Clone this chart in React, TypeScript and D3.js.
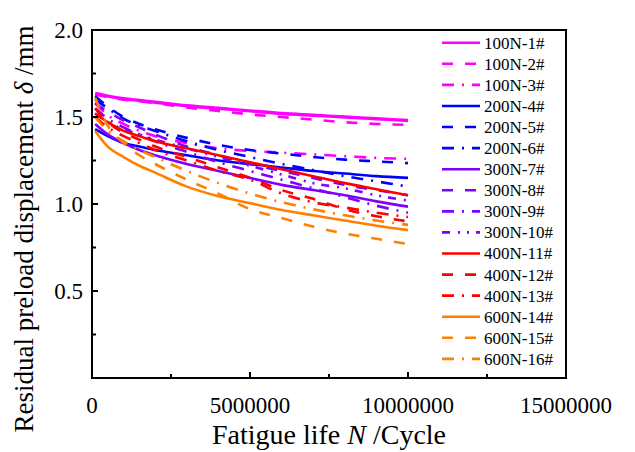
import React from "react";
import * as d3 from "d3";

const cycles = [0.1e6, 0.5e6, 1e6, 1.5e6, 2e6, 3e6, 4e6, 5e6, 6e6, 7e6, 8e6, 9e6, 10e6];

const seriesNames = [
  "100N-1#", "100N-2#", "100N-3#",
  "200N-4#", "200N-5#", "200N-6#",
  "300N-7#", "300N-8#", "300N-9#", "300N-10#",
  "400N-11#", "400N-12#", "400N-13#",
  "600N-14#", "600N-15#", "600N-16#",
];

const s100_1 = [1.635, 1.62, 1.605, 1.595, 1.585, 1.565, 1.55, 1.535, 1.52, 1.51, 1.5, 1.49, 1.48];
const s100_2 = [1.63, 1.615, 1.6, 1.59, 1.58, 1.555, 1.535, 1.515, 1.5, 1.485, 1.47, 1.46, 1.455];
const s100_3 = [1.58, 1.51, 1.46, 1.42, 1.39, 1.35, 1.32, 1.305, 1.295, 1.285, 1.275, 1.265, 1.26];
const s200_4 = [1.43, 1.39, 1.35, 1.33, 1.31, 1.28, 1.25, 1.23, 1.21, 1.19, 1.175, 1.16, 1.15];
const s200_5 = [1.62, 1.56, 1.5, 1.46, 1.43, 1.38, 1.34, 1.31, 1.29, 1.27, 1.255, 1.245, 1.235];
const s200_6 = [1.6, 1.55, 1.49, 1.45, 1.42, 1.36, 1.31, 1.27, 1.23, 1.195, 1.16, 1.13, 1.1];
const s300_7 = [1.46, 1.4, 1.35, 1.31, 1.28, 1.23, 1.19, 1.15, 1.11, 1.08, 1.05, 1.015, 0.985];
const s300_8 = [1.58, 1.53, 1.48, 1.44, 1.4, 1.33, 1.28, 1.23, 1.19, 1.15, 1.11, 1.08, 1.05];
const s300_9 = [1.55, 1.49, 1.44, 1.4, 1.36, 1.3, 1.24, 1.19, 1.14, 1.09, 1.04, 0.99, 0.95];
const s300_10 = [1.52, 1.47, 1.43, 1.4, 1.37, 1.32, 1.27, 1.22, 1.17, 1.12, 1.09, 1.05, 1.02];
const s400_11 = [1.52, 1.47, 1.42, 1.39, 1.36, 1.32, 1.28, 1.24, 1.2, 1.16, 1.12, 1.085, 1.05];
const s400_12 = [1.55, 1.47, 1.41, 1.37, 1.33, 1.27, 1.21, 1.15, 1.08, 1.03, 0.97, 0.93, 0.9];
const s400_13 = [1.5, 1.44, 1.39, 1.35, 1.31, 1.25, 1.19, 1.14, 1.06, 1.01, 0.98, 0.95, 0.925];
const s600_14 = [1.42, 1.33, 1.27, 1.22, 1.18, 1.1, 1.045, 1.005, 0.965, 0.935, 0.905, 0.875, 0.85];
const s600_15 = [1.61, 1.45, 1.35, 1.28, 1.23, 1.14, 1.06, 0.97, 0.92, 0.87, 0.83, 0.8, 0.77];
const s600_16 = [1.5, 1.42, 1.36, 1.31, 1.27, 1.19, 1.12, 1.06, 1.01, 0.97, 0.935, 0.905, 0.88];

const seriesValues = [
  s100_1, s100_2, s100_3, s200_4, s200_5, s200_6,
  s300_7, s300_8, s300_9, s300_10, s400_11, s400_12, s400_13,
  s600_14, s600_15, s600_16,
];

const xTicks = [0, 5000000, 10000000, 15000000];
const xMinorTicks = [2500000, 7500000, 12500000];
const yTicks = [0.5, 1.0, 1.5, 2.0];
const yMinorTicks = [0.25, 0.75, 1.25, 1.75];

const MAGENTA = "#ff00ff";
const BLUE = "#0000ff";
const PURPLE = "#8000ff";
const RED = "#ff0000";
const ORANGE = "#ff8000";
const colors = [
  MAGENTA, MAGENTA, MAGENTA, BLUE, BLUE, BLUE,
  PURPLE, PURPLE, PURPLE, PURPLE, RED, RED, RED,
  ORANGE, ORANGE, ORANGE,
];
const SOLID = "none";
const DASH = "11,12";
const DASHDOT = "12,8,2,8";
const DASHDOTDOT = "8,8,2,7,2,7";
const dashes = [
  SOLID, DASH, DASHDOT, SOLID, DASH, DASHDOT,
  SOLID, DASH, DASHDOT, DASHDOTDOT, SOLID, DASH, DASHDOT,
  SOLID, DASH, DASHDOT,
];

const W = 635;
const H = 452;
const L = 92, R = 566, T = 30, B = 378;
const FONT = "'Liberation Serif', 'Times New Roman', serif";

export default function App() {
  const x = d3.scaleLinear().domain([0, 15000000]).range([L, R]);
  const y = d3.scaleLinear().domain([0, 2.0]).range([B, T]);
  const line = d3
    .line<number>()
    .x((_, i) => x(cycles[i]))
    .y((d) => y(d))
    .curve(d3.curveMonotoneX);

  const legendX0 = 442, legendX1 = 480, legendTextX = 484, legendY0 = 42.7, legendDy = 21.08;

  return (
    <svg width={W} height={H} style={{ position: "absolute", left: 0, top: 0, background: "#fff" }}>
      <rect x={0} y={0} width={W} height={H} fill="#fff" />
      {seriesValues.map((vals, i) => (
        <path
          key={seriesNames[i]}
          d={line(vals) || ""}
          fill="none"
          stroke={colors[i]}
          strokeWidth={i === 0 ? 3.4 : 2.6}
          strokeDasharray={dashes[i]}
        />
      ))}
      {/* frame */}
      <rect x={L} y={T} width={R - L} height={B - T} fill="none" stroke="#000" strokeWidth={2} />
      {/* x ticks */}
      {xTicks.map((t) => (
        <g key={"xt" + t}>
          <line x1={x(t)} x2={x(t)} y1={B} y2={B - 6} stroke="#000" strokeWidth={2} />
          <text x={x(t)} y={413} textAnchor="middle" fontFamily={FONT} fontSize={23} fill="#000">
            {t}
          </text>
        </g>
      ))}
      {xMinorTicks.map((t) => (
        <line key={"xm" + t} x1={x(t)} x2={x(t)} y1={B} y2={B - 4} stroke="#000" strokeWidth={2} />
      ))}
      {yTicks.map((t) => (
        <g key={"yt" + t}>
          <line x1={L} x2={L + 6} y1={y(t)} y2={y(t)} stroke="#000" strokeWidth={2} />
          <text x={83} y={y(t)} dy="0.35em" textAnchor="end" fontFamily={FONT} fontSize={23} fill="#000">
            {t.toFixed(1)}
          </text>
        </g>
      ))}
      {yMinorTicks.map((t) => (
        <line key={"ym" + t} x1={L} x2={L + 4} y1={y(t)} y2={y(t)} stroke="#000" strokeWidth={2} />
      ))}
      {/* axis titles */}
      <text x={(L + R) / 2} y={444} textAnchor="middle" fontFamily={FONT} fontSize={28} fill="#000">
        Fatigue life <tspan fontStyle="italic">N</tspan> /Cycle
      </text>
      <text
        transform={`translate(33,229) rotate(-90)`}
        textAnchor="middle"
        fontFamily={FONT}
        fontSize={27}
        fill="#000"
      >
        Residual preload displacement <tspan fontStyle="italic">δ</tspan> /mm
      </text>
      {/* legend */}
      {seriesNames.map((name, i) => {
        const ly = legendY0 + i * legendDy;
        return (
          <g key={"lg" + name}>
            <line
              x1={legendX0}
              x2={legendX1}
              y1={ly}
              y2={ly}
              stroke={colors[i]}
              strokeWidth={2.6}
              strokeDasharray={dashes[i]}
            />
            <text x={legendTextX} y={ly} dy="0.35em" fontFamily={FONT} fontSize={17} fill="#000">
              {name}
            </text>
          </g>
        );
      })}
    </svg>
  );
}
